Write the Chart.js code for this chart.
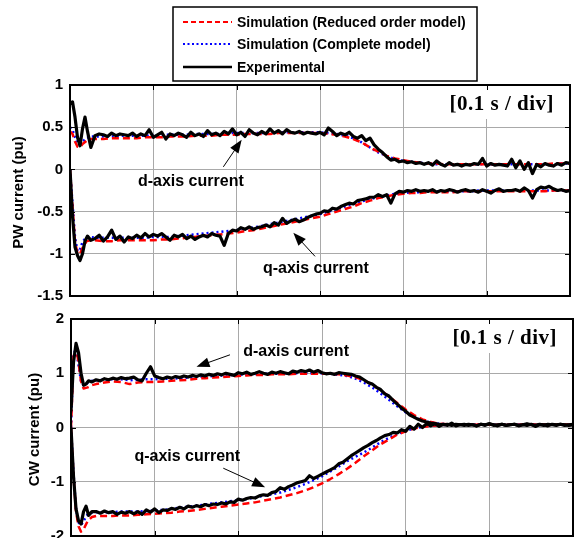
<!DOCTYPE html>
<html>
<head>
<meta charset="utf-8">
<script src="https://cdn.jsdelivr.net/npm/chart.js@4.4.1/dist/chart.umd.min.js"></script>
<style>
    html, body { margin: 0; padding: 0; background: #fff; width: 575px; height: 538px; overflow: hidden; }
    canvas { position: absolute; left: 0; }
    #pwChart { top: 0; }
    #cwChart { top: 300px; }
</style>
</head>
<body>
<canvas id="pwChart" width="575" height="312"></canvas>
<canvas id="cwChart" width="575" height="260"></canvas>
<script>
// ---- data (time in s, currents in pu) ----
const legendLabels = ['Simulation (Reduced order model)', 'Simulation (Complete model)', 'Experimental'];
const curveLabels = ['d-axis current', 'q-axis current'];
const noteText = '[0.1 s / div]';
const pwTicks = [1, 0.5, 0, -0.5, -1, -1.5];
const cwTicks = [2, 1, 0, -1, -2];

const tSim = [0, 0.003, 0.006, 0.009, 0.012, 0.015, 0.02, 0.025,
    0.03, 0.04, 0.05, 0.06, 0.07, 0.08, 0.09, 0.10, 0.11, 0.12,
    0.13, 0.14, 0.15, 0.16, 0.17, 0.18, 0.19, 0.20, 0.21, 0.22,
    0.23, 0.24, 0.25, 0.26, 0.27, 0.28, 0.29, 0.30, 0.31, 0.32,
    0.33, 0.34, 0.35, 0.36, 0.37, 0.38, 0.39, 0.40, 0.41, 0.42,
    0.43, 0.44, 0.45, 0.46, 0.47, 0.48, 0.49, 0.50, 0.51, 0.52,
    0.53, 0.54, 0.55, 0.56, 0.57, 0.58, 0.59, 0.60];

const tExp = [0, 0.003, 0.006, 0.009, 0.012, 0.015, 0.018, 0.021, 0.025,
    0.030, 0.035, 0.040, 0.045, 0.050, 0.055, 0.060, 0.065, 0.070, 0.075,
    0.080, 0.085, 0.090, 0.095, 0.100, 0.105, 0.110, 0.115, 0.120, 0.125,
    0.130, 0.135, 0.140, 0.145, 0.150, 0.155, 0.160, 0.165, 0.170, 0.175,
    0.180, 0.185, 0.190, 0.195, 0.200, 0.205, 0.210, 0.215, 0.220, 0.225,
    0.230, 0.235, 0.240, 0.245, 0.250, 0.255, 0.260, 0.265, 0.270, 0.275,
    0.280, 0.285, 0.290, 0.295, 0.300, 0.305, 0.310, 0.315, 0.320, 0.325,
    0.330, 0.335, 0.340, 0.345, 0.350, 0.355, 0.360, 0.365, 0.370, 0.375,
    0.380, 0.385, 0.390, 0.395, 0.400, 0.405, 0.410, 0.415, 0.420, 0.425,
    0.430, 0.435, 0.440, 0.445, 0.450, 0.455, 0.460, 0.465, 0.470, 0.475,
    0.480, 0.485, 0.490, 0.495, 0.500, 0.505, 0.510, 0.515, 0.520, 0.525,
    0.530, 0.535, 0.540, 0.545, 0.550, 0.555, 0.560, 0.565, 0.570, 0.575,
    0.580, 0.585, 0.590, 0.595, 0.600];

// PW winding, d-axis
const pwIdRed = [0.45, 0.42, 0.33, 0.27, 0.26, 0.30, 0.34, 0.36,
    0.36, 0.36, 0.37, 0.37, 0.37, 0.37, 0.38, 0.38, 0.38, 0.39,
    0.39, 0.39, 0.40, 0.40, 0.40, 0.41, 0.41, 0.41, 0.42, 0.42,
    0.42, 0.42, 0.43, 0.43, 0.43, 0.43, 0.43, 0.43, 0.42, 0.41,
    0.39, 0.36, 0.32, 0.26, 0.21, 0.16, 0.13, 0.11, 0.09, 0.08,
    0.07, 0.07, 0.06, 0.06, 0.06, 0.06, 0.06, 0.06, 0.06, 0.06,
    0.06, 0.06, 0.06, 0.06, 0.06, 0.07, 0.07, 0.07];
const pwIdBlue = [0.50, 0.47, 0.38, 0.31, 0.30, 0.33, 0.37, 0.39,
    0.39, 0.39, 0.39, 0.40, 0.40, 0.40, 0.40, 0.40, 0.41, 0.41,
    0.41, 0.41, 0.42, 0.42, 0.42, 0.42, 0.43, 0.43, 0.43, 0.43,
    0.43, 0.44, 0.44, 0.44, 0.44, 0.44, 0.44, 0.44, 0.43, 0.42,
    0.40, 0.37, 0.32, 0.26, 0.20, 0.16, 0.12, 0.10, 0.09, 0.08,
    0.07, 0.06, 0.06, 0.06, 0.06, 0.06, 0.06, 0.06, 0.06, 0.06,
    0.06, 0.06, 0.06, 0.06, 0.06, 0.06, 0.07, 0.07];
const pwIdExp = [0.78, 0.80, 0.62, 0.38, 0.28, 0.48, 0.62, 0.45, 0.26,
    0.40, 0.42, 0.41, 0.39, 0.43, 0.40, 0.42, 0.41, 0.40, 0.43,
    0.39, 0.42, 0.40, 0.47, 0.38, 0.41, 0.44, 0.36, 0.42, 0.40,
    0.43, 0.41, 0.38, 0.44, 0.40, 0.42, 0.39, 0.46, 0.41, 0.43,
    0.40, 0.45, 0.42, 0.48, 0.41, 0.44, 0.39, 0.47, 0.43, 0.41,
    0.45, 0.42, 0.48, 0.43, 0.46, 0.42, 0.47, 0.44, 0.43, 0.45,
    0.42, 0.44, 0.43, 0.42, 0.44, 0.41, 0.49, 0.45, 0.40, 0.43,
    0.41, 0.44, 0.39, 0.37, 0.40, 0.34, 0.37, 0.29, 0.24, 0.20,
    0.15, 0.11, 0.12, 0.09, 0.10, 0.08, 0.09, 0.07, 0.08, 0.06,
    0.08, 0.05, 0.10, 0.06, 0.04, 0.08, 0.05, 0.06, 0.04, 0.06,
    0.05, 0.07, 0.06, 0.13, 0.04, 0.07, 0.05, 0.06, 0.05, 0.04,
    0.12, 0.02, 0.10, 0.00, 0.08, -0.05, 0.06, 0.03, 0.07, 0.05,
    0.04, 0.07, 0.05, 0.08, 0.07];

// PW winding, q-axis
const pwIqRed = [0.00, -0.45, -0.85, -1.00, -1.00, -0.93, -0.85, -0.84,
    -0.84, -0.85, -0.85, -0.84, -0.84, -0.84, -0.84, -0.84, -0.83, -0.83,
    -0.82, -0.81, -0.80, -0.79, -0.78, -0.77, -0.76, -0.75, -0.73, -0.72,
    -0.70, -0.68, -0.66, -0.64, -0.62, -0.60, -0.58, -0.56, -0.53, -0.50,
    -0.47, -0.44, -0.40, -0.37, -0.34, -0.32, -0.30, -0.29, -0.28, -0.28,
    -0.27, -0.27, -0.27, -0.27, -0.26, -0.26, -0.26, -0.26, -0.26, -0.26,
    -0.26, -0.26, -0.26, -0.26, -0.26, -0.25, -0.25, -0.25];
const pwIqBlue = [0.00, -0.40, -0.80, -0.97, -0.95, -0.86, -0.80, -0.80,
    -0.81, -0.81, -0.81, -0.81, -0.81, -0.81, -0.81, -0.80, -0.80, -0.80,
    -0.79, -0.78, -0.77, -0.76, -0.75, -0.74, -0.73, -0.72, -0.70, -0.69,
    -0.67, -0.65, -0.63, -0.61, -0.59, -0.57, -0.55, -0.53, -0.50, -0.47,
    -0.44, -0.41, -0.38, -0.35, -0.33, -0.31, -0.29, -0.28, -0.27, -0.27,
    -0.26, -0.26, -0.26, -0.26, -0.26, -0.26, -0.25, -0.25, -0.25, -0.25,
    -0.25, -0.25, -0.25, -0.25, -0.25, -0.25, -0.25, -0.25];
const pwIqExp = [0.00, -0.55, -0.92, -1.02, -1.08, -1.00, -0.85, -0.79, -0.84,
    -0.82, -0.78, -0.85, -0.80, -0.72, -0.83, -0.79, -0.86, -0.80, -0.82,
    -0.78, -0.81, -0.76, -0.80, -0.77, -0.79, -0.76, -0.80, -0.84, -0.78,
    -0.80, -0.77, -0.82, -0.79, -0.83, -0.80, -0.78, -0.80, -0.76, -0.78,
    -0.79, -0.90, -0.76, -0.72, -0.73, -0.69, -0.71, -0.68, -0.71, -0.69,
    -0.68, -0.66, -0.68, -0.63, -0.66, -0.58, -0.64, -0.61, -0.59, -0.62,
    -0.60, -0.57, -0.55, -0.53, -0.52, -0.49, -0.50, -0.46, -0.47, -0.44,
    -0.42, -0.40, -0.41, -0.37, -0.36, -0.35, -0.33, -0.33, -0.30, -0.32,
    -0.30, -0.40, -0.29, -0.26, -0.27, -0.25, -0.26, -0.24, -0.26, -0.25,
    -0.26, -0.24, -0.27, -0.25, -0.26, -0.24, -0.25, -0.27, -0.25, -0.24,
    -0.26, -0.25, -0.27, -0.24, -0.26, -0.28, -0.25, -0.23, -0.26, -0.25,
    -0.25, -0.24, -0.26, -0.22, -0.25, -0.34, -0.24, -0.21, -0.22, -0.20,
    -0.23, -0.25, -0.24, -0.26, -0.25];

// CW winding, d-axis
const cwIdRed = [0.00, 1.30, 1.48, 1.20, 0.85, 0.72, 0.74, 0.78,
    0.80, 0.83, 0.85, 0.84, 0.80, 0.83, 0.84, 0.84, 0.85, 0.86,
    0.87, 0.88, 0.90, 0.91, 0.92, 0.93, 0.94, 0.95, 0.96, 0.97,
    0.97, 0.98, 0.98, 0.98, 0.99, 0.99, 0.99, 0.99, 0.99, 0.98,
    0.96, 0.93, 0.87, 0.79, 0.69, 0.57, 0.45, 0.33, 0.23, 0.15,
    0.10, 0.07, 0.06, 0.05, 0.05, 0.05, 0.05, 0.05, 0.05, 0.05,
    0.05, 0.05, 0.05, 0.05, 0.05, 0.05, 0.05, 0.05];
const cwIdBlue = [0.00, 1.35, 1.45, 1.15, 0.85, 0.78, 0.82, 0.86,
    0.87, 0.88, 0.89, 0.89, 0.87, 0.88, 0.89, 0.89, 0.90, 0.90,
    0.91, 0.92, 0.93, 0.94, 0.95, 0.96, 0.97, 0.97, 0.98, 0.98,
    0.99, 0.99, 0.99, 1.00, 1.00, 1.00, 1.00, 1.00, 0.99, 0.97,
    0.95, 0.90, 0.83, 0.74, 0.63, 0.51, 0.39, 0.28, 0.19, 0.13,
    0.09, 0.07, 0.06, 0.05, 0.05, 0.05, 0.05, 0.05, 0.05, 0.05,
    0.05, 0.05, 0.05, 0.05, 0.05, 0.05, 0.05, 0.05];
const cwIdExp = [0.30, 1.20, 1.55, 1.38, 1.00, 0.78, 0.80, 0.86, 0.84,
    0.88, 0.86, 0.90, 0.88, 0.91, 0.89, 0.92, 0.90, 0.91, 0.93,
    0.88, 0.86, 1.00, 1.12, 0.95, 0.92, 0.90, 0.93, 0.91, 0.94,
    0.92, 0.95, 0.93, 0.96, 0.94, 0.97, 0.95, 0.98, 0.96, 0.99,
    0.97, 1.00, 0.98, 0.96, 1.01, 0.99, 1.02, 0.98, 1.00, 1.03,
    1.00, 0.98, 1.02, 1.00, 1.03, 1.01, 0.99, 1.04, 1.02, 1.05,
    1.03, 1.06, 1.02, 1.05, 1.01, 0.99, 1.00, 0.98, 1.01, 1.00,
    0.99, 0.98, 0.95, 0.93, 0.88, 0.83, 0.80, 0.74, 0.70, 0.62,
    0.58, 0.50, 0.43, 0.36, 0.30, 0.23, 0.19, 0.15, 0.12, 0.10,
    0.08, 0.07, 0.06, 0.05, 0.06, 0.04, 0.06, 0.05, 0.04, 0.06,
    0.05, 0.03, 0.06, 0.05, 0.07, 0.04, 0.05, 0.06, 0.04, 0.05,
    0.06, 0.04, 0.05, 0.07, 0.05, 0.04, 0.06, 0.05, 0.03, 0.06,
    0.05, 0.06, 0.04, 0.05, 0.06];

// CW winding, q-axis
const cwIqRed = [0.00, -0.90, -1.55, -1.82, -1.92, -1.88, -1.72, -1.65,
    -1.63, -1.63, -1.63, -1.62, -1.62, -1.61, -1.60, -1.59, -1.58, -1.57,
    -1.55, -1.54, -1.52, -1.50, -1.48, -1.46, -1.44, -1.42, -1.40, -1.38,
    -1.35, -1.32, -1.29, -1.25, -1.21, -1.16, -1.10, -1.03, -0.95, -0.86,
    -0.76, -0.65, -0.53, -0.42, -0.31, -0.22, -0.13, -0.07, -0.02, 0.01,
    0.03, 0.04, 0.05, 0.05, 0.05, 0.05, 0.05, 0.05, 0.05, 0.05,
    0.05, 0.05, 0.05, 0.05, 0.05, 0.05, 0.05, 0.05];
const cwIqBlue = [0.00, -0.85, -1.50, -1.75, -1.80, -1.72, -1.60, -1.57,
    -1.56, -1.56, -1.56, -1.55, -1.55, -1.55, -1.54, -1.53, -1.52, -1.50,
    -1.48, -1.46, -1.44, -1.42, -1.40, -1.38, -1.36, -1.34, -1.32, -1.29,
    -1.26, -1.23, -1.20, -1.15, -1.10, -1.04, -0.97, -0.90, -0.81, -0.72,
    -0.62, -0.54, -0.46, -0.37, -0.27, -0.19, -0.12, -0.06, -0.02, 0.01,
    0.03, 0.04, 0.05, 0.05, 0.05, 0.05, 0.05, 0.05, 0.05, 0.05,
    0.05, 0.05, 0.05, 0.05, 0.05, 0.05, 0.05, 0.05];
const cwIqExp = [0.00, -0.90, -1.50, -1.72, -1.78, -1.55, -1.45, -1.62, -1.55,
    -1.55, -1.58, -1.54, -1.57, -1.55, -1.60, -1.56, -1.58, -1.55, -1.59,
    -1.55, -1.60, -1.52, -1.56, -1.50, -1.57, -1.52, -1.53, -1.49, -1.51,
    -1.47, -1.50, -1.45, -1.47, -1.44, -1.46, -1.42, -1.44, -1.41, -1.42,
    -1.39, -1.41, -1.37, -1.38, -1.32, -1.34, -1.31, -1.29, -1.30, -1.26,
    -1.24, -1.25, -1.20, -1.18, -1.11, -1.14, -1.09, -1.06, -1.02, -1.00,
    -0.98, -0.89, -0.94, -0.90, -0.86, -0.82, -0.78, -0.74, -0.67, -0.64,
    -0.58, -0.52, -0.47, -0.42, -0.37, -0.33, -0.28, -0.24, -0.19, -0.15,
    -0.13, -0.09, -0.10, -0.04, -0.07, 0.02, -0.03, 0.06, 0.00, 0.07,
    0.03, 0.07, 0.02, 0.06, 0.04, 0.08, 0.03, 0.05, 0.06, 0.04,
    0.05, 0.03, 0.06, 0.04, 0.07, 0.05, 0.03, 0.06, 0.04, 0.05,
    0.06, 0.03, 0.05, 0.04, 0.06, 0.02, 0.05, 0.04, 0.06, 0.05,
    0.04, 0.06, 0.05, 0.04, 0.05];

// ---- styling ----
Chart.defaults.font.family = '"Liberation Sans", Arial, sans-serif';
const FONT = '"Liberation Sans", Arial, sans-serif';
const GRID = '#a9a9a9';

const styles = {
    red: { borderColor: '#ff0000', borderWidth: 2.5, borderDash: [7, 4], order: 1 },
    blue: { borderColor: '#0000ff', borderWidth: 2.5, borderDash: [2, 3], order: 2 },
    exp: { borderColor: '#000000', borderWidth: 3.2, borderDash: [], order: 0 }
};

function pts(t, v) {
    return t.map((x, i) => ({ x: x, y: v[i] }));
}

function lineSets(red, blue, exp) {
    return [
        { label: legendLabels[2], data: pts(tExp, exp), ...styles.exp },
        { label: legendLabels[0], data: pts(tSim, red), ...styles.red },
        { label: legendLabels[1], data: pts(tSim, blue), ...styles.blue }
    ];
}

function arrow(ctx, x1, y1, x2, y2) {
    const a = Math.atan2(y2 - y1, x2 - x1);
    const L = 13, W = 5;
    ctx.beginPath();
    ctx.moveTo(x1, y1);
    ctx.lineTo(x2 - Math.cos(a) * L * 0.8, y2 - Math.sin(a) * L * 0.8);
    ctx.stroke();
    const bx = x2 - Math.cos(a) * L, by = y2 - Math.sin(a) * L;
    ctx.beginPath();
    ctx.moveTo(x2, y2);
    ctx.lineTo(bx - Math.sin(a) * W, by + Math.cos(a) * W);
    ctx.lineTo(bx + Math.sin(a) * W, by - Math.cos(a) * W);
    ctx.closePath();
    ctx.fill();
}

// MATLAB-like axes box, inward ticks, notes, arrows, axis title and (optionally) legend
function makeFrame(cfg) {
    return {
        id: 'frame',
        afterDatasetsDraw(chart) {
            const { ctx, chartArea: a, scales: { x, y } } = chart;
            ctx.save();

            // "[0.1 s / div]" on a white patch
            ctx.font = 'bold 21px "Liberation Serif", "Times New Roman", serif';
            ctx.letterSpacing = '0.5px';
            const w = ctx.measureText(noteText).width;
            const nx = a.right - 16 - w, ny = a.top + 20;
            ctx.fillStyle = '#fff';
            ctx.fillRect(nx - 6, a.top + 1, w + 12, 33);
            ctx.fillStyle = '#000';
            ctx.textAlign = 'left';
            ctx.textBaseline = 'middle';
            ctx.fillText(noteText, nx, ny);
            ctx.letterSpacing = '0px';

            // inward tick marks and box
            ctx.strokeStyle = '#000';
            ctx.lineWidth = 1;
            ctx.beginPath();
            x.ticks.forEach(t => {
                const px = Math.round(x.getPixelForValue(t.value)) + 0.5;
                ctx.moveTo(px, a.top); ctx.lineTo(px, a.top + 5);
                ctx.moveTo(px, a.bottom); ctx.lineTo(px, a.bottom - 5);
            });
            y.ticks.forEach(t => {
                const py = Math.round(y.getPixelForValue(t.value)) + 0.5;
                ctx.moveTo(a.left, py); ctx.lineTo(a.left + 5, py);
                ctx.moveTo(a.right, py); ctx.lineTo(a.right - 5, py);
            });
            ctx.stroke();
            ctx.lineWidth = 2;
            ctx.strokeRect(a.left, a.top, a.right - a.left, a.bottom - a.top);

            // curve labels with arrows
            ctx.font = 'bold 16px ' + FONT;
            ctx.textAlign = 'center';
            ctx.lineWidth = 1;
            cfg.labels.forEach(l => {
                ctx.fillText(l.text, x.getPixelForValue(l.at[0]), y.getPixelForValue(l.at[1]));
                arrow(ctx, x.getPixelForValue(l.from[0]), y.getPixelForValue(l.from[1]),
                    x.getPixelForValue(l.to[0]), y.getPixelForValue(l.to[1]));
            });

            // y axis title
            ctx.save();
            ctx.translate(cfg.titleX, (a.top + a.bottom) / 2 + 2);
            ctx.rotate(-Math.PI / 2);
            ctx.font = 'bold 15px ' + FONT;
            ctx.fillText(cfg.title, 0, 0);
            ctx.restore();

            if (cfg.legend) {
                const b = cfg.legend;
                ctx.fillStyle = '#fff';
                ctx.fillRect(b.x, b.y, b.w, b.h);
                ctx.strokeStyle = '#000';
                ctx.lineWidth = 1.5;
                ctx.strokeRect(b.x, b.y, b.w, b.h);
                const entries = [chart.data.datasets[1], chart.data.datasets[2], chart.data.datasets[0]];
                const rows = [22, 44, 67];
                ctx.font = 'bold 14px ' + FONT;
                ctx.textAlign = 'left';
                entries.forEach((d, i) => {
                    ctx.strokeStyle = d.borderColor;
                    ctx.lineWidth = i === 2 ? 2.5 : 2;
                    ctx.setLineDash(i === 0 ? [5, 3] : (i === 1 ? [2, 2.5] : []));
                    ctx.beginPath();
                    ctx.moveTo(b.x + 10, rows[i]);
                    ctx.lineTo(b.x + 59, rows[i]);
                    ctx.stroke();
                    ctx.setLineDash([]);
                    ctx.fillStyle = '#000';
                    ctx.fillText(d.label, b.x + 64, rows[i] + 1);
                });
            }
            ctx.restore();
        }
    };
}

function makeChart(id, sets, yMin, yMax, yStep, pad, yWidth, frameCfg) {
    return new Chart(document.getElementById(id), {
        type: 'line',
        data: { datasets: sets },
        plugins: [makeFrame(frameCfg)],
        options: {
            responsive: false,
            animation: false,
            devicePixelRatio: 1,
            layout: { padding: pad },
            elements: {
                point: { radius: 0 },
                line: { tension: 0, borderJoinStyle: 'round' }
            },
            plugins: { legend: { display: false }, tooltip: { enabled: false } },
            scales: {
                x: {
                    type: 'linear', min: 0, max: 0.6,
                    ticks: { display: false, stepSize: 0.1 },
                    grid: { color: GRID, drawTicks: false },
                    border: { display: false },
                    afterFit(s) { s.height = 0; }
                },
                y: {
                    type: 'linear', min: yMin, max: yMax,
                    ticks: {
                        stepSize: yStep, padding: 7, color: '#000',
                        font: { size: 15, weight: 'bold' },
                        callback: v => String(Math.round(v * 10) / 10)
                    },
                    grid: { color: GRID, drawTicks: false },
                    border: { display: false },
                    afterFit(s) { s.width = yWidth; }
                }
            }
        }
    });
}

makeChart('pwChart',
    [...lineSets(pwIdRed, pwIdBlue, pwIdExp), ...lineSets(pwIqRed, pwIqBlue, pwIqExp)],
    pwTicks[pwTicks.length - 1], pwTicks[0], 0.5,
    { top: 85, right: 5, bottom: 16, left: 0 }, 70,
    {
        title: 'PW current (pu)', titleX: 19,
        labels: [
            { text: curveLabels[0], at: [0.145, -0.15], from: [0.184, 0.03], to: [0.206, 0.35] },
            { text: curveLabels[1], at: [0.295, -1.18], from: [0.294, -1.03], to: [0.268, -0.75] }
        ],
        legend: { x: 173, y: 7, w: 304, h: 74 }
    });

makeChart('cwChart',
    [...lineSets(cwIdRed, cwIdBlue, cwIdExp), ...lineSets(cwIqRed, cwIqBlue, cwIqExp)],
    cwTicks[cwTicks.length - 1], cwTicks[0], 1,
    { top: 19, right: 2, bottom: 24, left: 0 }, 71,
    {
        title: 'CW current (pu)', titleX: 35,
        labels: [
            { text: curveLabels[0], at: [0.269, 1.39], from: [0.19, 1.34], to: [0.15, 1.12] },
            { text: curveLabels[1], at: [0.139, -0.54], from: [0.182, -0.75], to: [0.232, -1.10] }
        ],
        legend: null
    });
</script>
</body>
</html>
